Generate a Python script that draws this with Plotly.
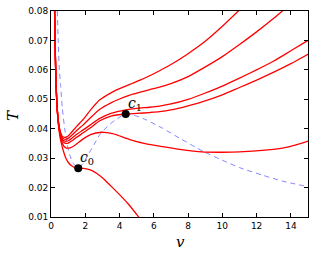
import plotly.graph_objects as go

# isotherm through c0
vA = [0.21, 0.25, 0.29, 0.34, 0.40, 0.47, 0.55, 0.62, 0.72, 0.85, 1.0, 1.2, 1.4, 1.59,
      1.9, 2.3, 2.7, 3.1, 3.5, 4.0, 4.5, 5.2]
TA = [0.080, 0.066, 0.056, 0.049, 0.0435, 0.0395, 0.0365, 0.0347, 0.0325, 0.0302,
      0.0286, 0.0274, 0.0268, 0.0266, 0.0265, 0.0260, 0.0247, 0.0228, 0.0205, 0.0176,
      0.0145, 0.0094]

# isotherm with local max / min
vB = [0.21, 0.25, 0.29, 0.34, 0.40, 0.47, 0.55, 0.65, 0.75, 0.87, 1.0, 1.15, 1.4, 1.8,
      2.3, 2.95, 3.6, 4.6, 5.5, 6.5, 7.5, 8.8, 10.0, 11.0, 12.5, 13.5, 14.3, 15.0]
TB = [0.080, 0.066, 0.056, 0.049, 0.0438, 0.0400, 0.0372, 0.0352, 0.0341, 0.0335,
      0.0334, 0.0336, 0.0344, 0.0362, 0.0380, 0.0388, 0.0383, 0.0363, 0.0349, 0.0339,
      0.0330, 0.0321, 0.0320, 0.0321, 0.0327, 0.0334, 0.0345, 0.0358]

# isotherm through c1
vC = [0.21, 0.25, 0.29, 0.34, 0.40, 0.47, 0.55, 0.65, 0.75, 0.87, 1.0, 1.2, 1.5, 1.88,
      2.3, 2.85, 3.5, 4.36, 5.0, 5.76, 6.34, 7.0, 8.0, 8.86, 10.0, 11.0, 12.0, 13.0,
      14.0, 15.0]
TC = [0.080, 0.066, 0.056, 0.049, 0.0440, 0.0403, 0.0377, 0.0360, 0.0353, 0.0350,
      0.0351, 0.0358, 0.0371, 0.0386, 0.0403, 0.0427, 0.0443, 0.0450, 0.0452, 0.0455,
      0.0458, 0.0464, 0.0478, 0.0492, 0.0515, 0.0540, 0.0565, 0.0592, 0.0621, 0.0653]

vD = vC
TD = [0.080, 0.066, 0.056, 0.049, 0.0441, 0.0405, 0.0381, 0.0365, 0.0359, 0.0357,
      0.0359, 0.0367, 0.0381, 0.0396, 0.0413, 0.0435, 0.0452, 0.0464, 0.0469, 0.0473,
      0.0477, 0.0484, 0.0500, 0.0518, 0.0545, 0.0572, 0.0600, 0.0630, 0.0665, 0.0700]

vE = [0.21, 0.25, 0.29, 0.34, 0.40, 0.47, 0.55, 0.65, 0.75, 0.87, 1.0, 1.2, 1.5, 1.88,
      2.3, 2.85, 3.5, 4.0, 4.6, 5.2, 5.76, 6.34, 7.0, 8.0, 8.86, 10.0, 11.0, 12.0,
      13.0, 13.8]
TE = [0.080, 0.066, 0.056, 0.049, 0.0442, 0.0408, 0.0385, 0.0370, 0.0365, 0.0364,
      0.0367, 0.0377, 0.0394, 0.0413, 0.0437, 0.0466, 0.0488, 0.0501, 0.0514, 0.0524,
      0.0533, 0.0541, 0.0553, 0.0577, 0.0605, 0.0645, 0.0686, 0.0729, 0.0775, 0.0815]

vF = [0.21, 0.25, 0.29, 0.34, 0.40, 0.47, 0.55, 0.65, 0.75, 0.87, 1.0, 1.2, 1.5, 1.88,
      2.3, 2.85, 3.5, 4.0, 4.6, 5.2, 5.76, 6.34, 7.0, 8.0, 9.0, 10.0, 11.2]
TF = [0.080, 0.066, 0.056, 0.049, 0.0443, 0.0410, 0.0389, 0.0375, 0.0371, 0.0371,
      0.0375, 0.0388, 0.0408, 0.0432, 0.0463, 0.0498, 0.0522, 0.0536, 0.0551, 0.0565,
      0.0580, 0.0597, 0.0618, 0.0655, 0.0697, 0.0748, 0.0815]

# spinodal (dashed)
v_sp = [0.37, 0.42, 0.48, 0.56, 0.66, 0.81, 0.95, 1.1, 1.3, 1.59, 1.9, 2.15, 2.5, 2.85,
        3.3, 3.72, 4.36, 5.0, 5.56, 6.5, 7.5, 8.5, 8.95, 10.0, 11.0, 12.3, 13.5, 15.0]
T_sp = [0.080, 0.070, 0.061, 0.0547, 0.047, 0.0396, 0.0345, 0.0310, 0.0282, 0.0266,
        0.0285, 0.0310, 0.0345, 0.0380, 0.0408, 0.0428, 0.0450, 0.0443, 0.0430, 0.0402,
        0.0368, 0.0335, 0.0321, 0.0293, 0.0268, 0.0243, 0.0222, 0.0203]

# critical points
crit_v = [1.59, 4.36]
crit_T = [0.0266, 0.0450]
crit_labels = ["<i>c</i><sub>0</sub>", "<i>c</i><sub>1</sub>"]

x_ticks = [0, 2, 4, 6, 8, 10, 12, 14]
y_ticks = [0.01, 0.02, 0.03, 0.04, 0.05, 0.06, 0.07, 0.08]

fig = go.Figure()
fig.add_trace(go.Scatter(x=v_sp, y=T_sp, mode="lines",
                         line=dict(color="rgba(100,100,255,0.8)", width=1, dash="5px,4px",
                                   shape="spline", smoothing=0.6)))
for vx, Ty in [(vA, TA), (vB, TB), (vC, TC), (vD, TD), (vE, TE), (vF, TF)]:
    fig.add_trace(go.Scatter(x=vx, y=Ty, mode="lines",
                             line=dict(color="#ff0000", width=1.3, shape="spline",
                                       smoothing=0.6)))
fig.add_trace(go.Scatter(x=crit_v, y=crit_T, mode="markers",
                         marker=dict(color="black", size=8)))
for cv, cT, lab in zip(crit_v, crit_T, crit_labels):
    fig.add_annotation(x=cv, y=cT, text=lab, showarrow=False, xanchor="left",
                       yanchor="bottom", xshift=0, yshift=-1,
                       font=dict(family="DejaVu Serif", size=14, color="black"))

fig.add_annotation(xref="paper", yref="paper", x=0.502, y=-0.121, text="<i>v</i>",
                   showarrow=False, xanchor="center", yanchor="middle",
                   font=dict(family="DejaVu Serif", size=15, color="black"))
fig.add_annotation(xref="paper", yref="paper", x=-0.148, y=0.495, text="<i>T</i>",
                   showarrow=False, xanchor="center", yanchor="middle", textangle=-90,
                   font=dict(family="DejaVu Serif", size=15, color="black"))

axis_common = dict(showgrid=False, zeroline=False, showline=True, linecolor="black",
                   linewidth=1, mirror="ticks", ticks="inside", ticklen=4,
                   tickcolor="black", automargin=False,
                   tickfont=dict(family="DejaVu Sans", size=9, color="black"))
fig.update_xaxes(range=[0, 15], tickvals=x_ticks, ticktext=[str(t) for t in x_ticks],
                 **axis_common)
fig.update_yaxes(range=[0.01, 0.08], tickvals=y_ticks,
                 ticktext=["%.2f" % t for t in y_ticks], **axis_common)
fig.update_layout(width=316, height=257, showlegend=False, hovermode=False,
                  margin=dict(l=51, r=8, t=11, b=40),
                  plot_bgcolor="white", paper_bgcolor="white")
fig.write_html("out.html",
               config={"displayModeBar": False, "staticPlot": True},
               post_script="document.body.style.margin='0';"
                           "document.body.style.overflow='hidden';")
